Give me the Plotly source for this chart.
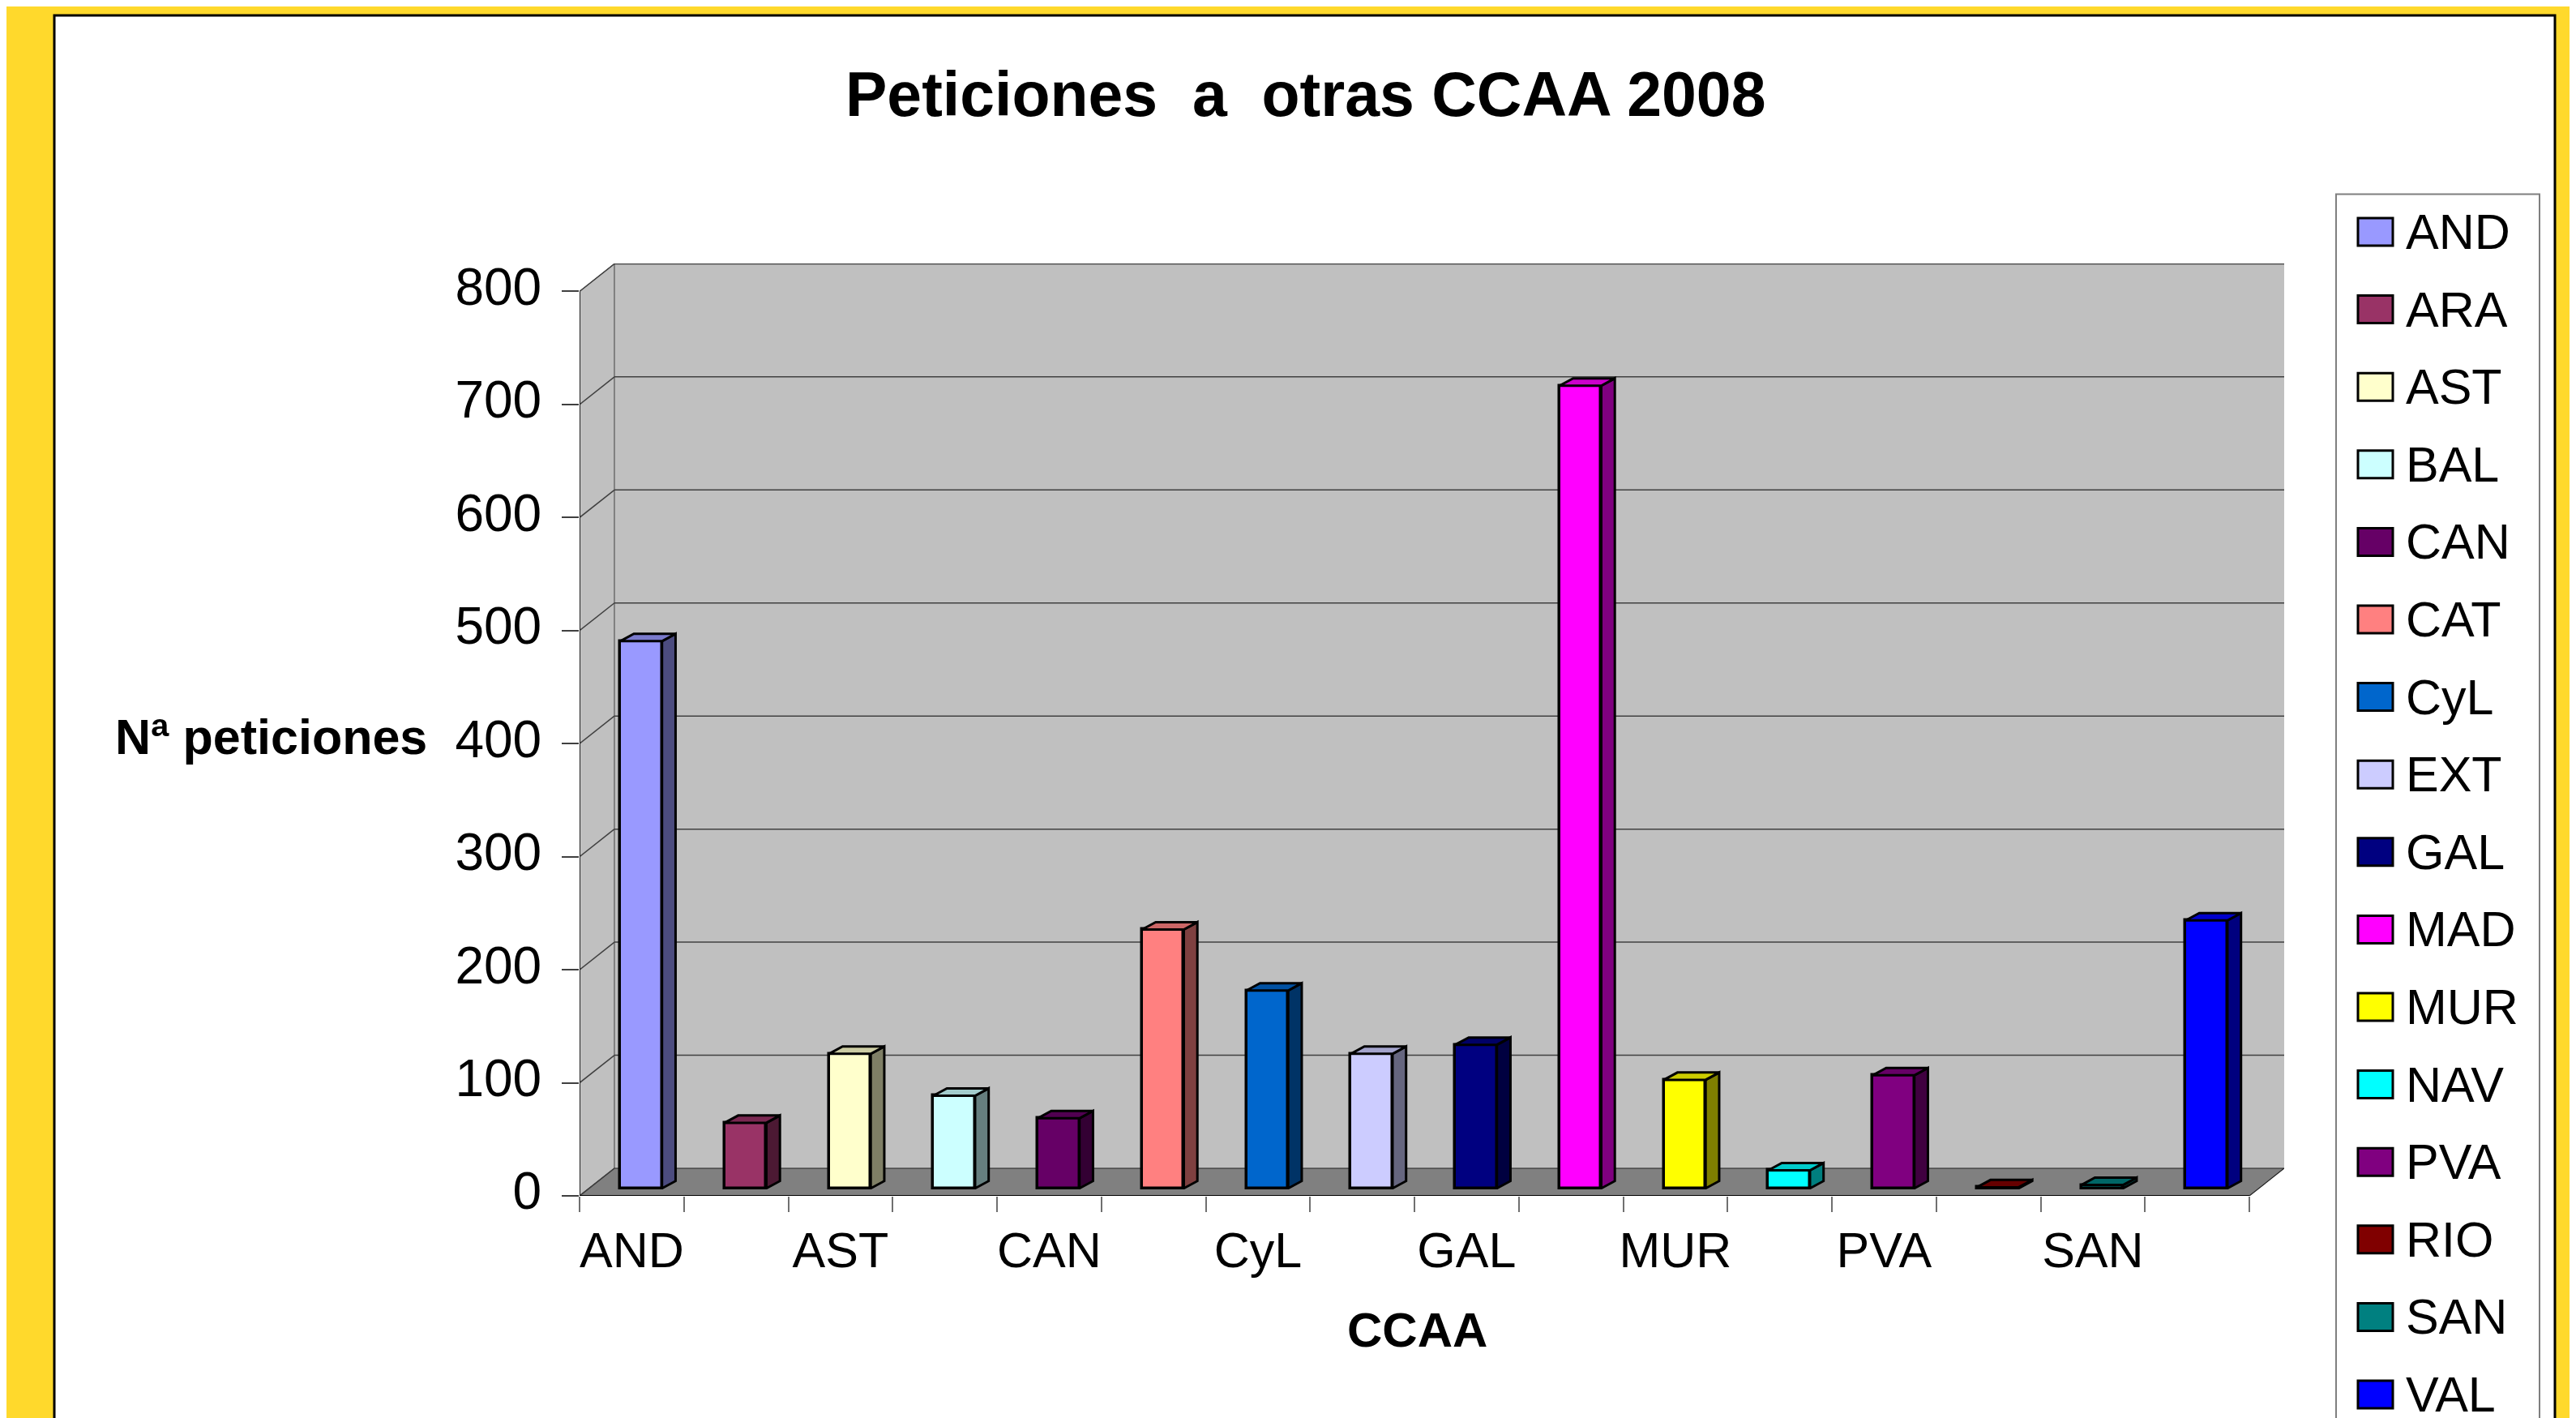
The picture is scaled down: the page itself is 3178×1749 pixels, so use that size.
import plotly.graph_objects as go

# ---------------- data ----------------
categories = ["AND", "ARA", "AST", "BAL", "CAN", "CAT", "CyL", "EXT",
              "GAL", "MAD", "MUR", "NAV", "PVA", "RIO", "SAN", "VAL"]
values = [484, 58, 119, 82, 62, 229, 175, 119, 127, 710, 96, 16, 100, 1, 3, 237]
colors = ["#9999FF", "#993366", "#FFFFCC", "#CCFFFF", "#660066", "#FF8080",
          "#0066CC", "#CCCCFF", "#000080", "#FF00FF", "#FFFF00", "#00FFFF",
          "#800080", "#800000", "#008080", "#0000FF"]
y_ticks = [0, 100, 200, 300, 400, 500, 600, 700, 800]
title_text = "Peticiones  a  otras CCAA 2008"
y_title = "Nª peticiones"
x_title = "CCAA"

# ---------------- geometry / style ----------------
W, H = 3178, 1749
PAGE_OFF = 8                # browser body margin
PX_L, PX_R, PY_T, PY_B = 715, 2818, 325, 1475
CAT_PX = 128.8              # px per category on the front axis
UNIT_PX = 1.3945            # px per value unit
DX = 43 / CAT_PX            # wall depth (categories)
DY = 34 / UNIT_PX           # wall depth (value units)
XMIN = -0.5
XMAX = len(categories) - 0.5 + DX
YMAX = (PY_B - PY_T) / UNIT_PX
BAR_SHIFT, BAR_W, BAR_BASE = 0.09, 0.40, 6.6
SIDE_DX, SIDE_DY = 0.13, 6.5
FONT = "Liberation Sans, Arial, sans-serif"


def px(x):
    return (x - PX_L) / (PX_R - PX_L)


def py(y):
    return (PY_B - y) / (PY_B - PY_T)


def shade(hexcol, f):
    h = hexcol.lstrip("#")
    r, g, b = (int(h[i:i + 2], 16) for i in (0, 2, 4))
    return "#%02X%02X%02X" % (int(r * f), int(g * f), int(b * f))


fig = go.Figure()

xs = [i + BAR_SHIFT for i in range(len(categories))]
fig.add_trace(go.Bar(
    x=xs, y=values, base=BAR_BASE, width=BAR_W,
    marker=dict(color=colors, line=dict(color="black", width=3.5)),
    hoverinfo="skip", showlegend=False))

# 3D side and top faces derived from the values
for x, v, c in zip(xs, values, colors):
    xl, xr = x - BAR_W / 2, x + BAR_W / 2
    b, t = BAR_BASE, BAR_BASE + v
    fig.add_trace(go.Scatter(
        x=[xr, xr + SIDE_DX, xr + SIDE_DX, xr, xr],
        y=[b, b + SIDE_DY, t + SIDE_DY, t, b],
        fill="toself", fillcolor=shade(c, 0.5), mode="lines",
        line=dict(color="black", width=3), hoverinfo="skip", showlegend=False))
    fig.add_trace(go.Scatter(
        x=[xl, xl + SIDE_DX, xr + SIDE_DX, xr, xl],
        y=[t, t + SIDE_DY, t + SIDE_DY, t, t],
        fill="toself", fillcolor=shade(c, 0.8), mode="lines",
        line=dict(color="black", width=3), hoverinfo="skip", showlegend=False))

shapes = []
# white panel
shapes.append(dict(type="rect", xref="paper", yref="paper", layer="below",
                   x0=px(67), x1=px(3152), y0=py(1900), y1=py(19),
                   fillcolor="white", line=dict(color="black", width=3)))
# legend box
shapes.append(dict(type="rect", xref="paper", yref="paper", layer="below",
                   x0=px(2882), x1=px(3133), y0=py(1900), y1=py(239.5),
                   fillcolor="white", line=dict(color="#7f7f7f", width=2)))

xr_front = len(categories) - 0.5
# back wall
shapes.append(dict(type="rect", xref="x", yref="y", layer="below",
                   x0=XMIN + DX, x1=xr_front + DX, y0=DY, y1=y_ticks[-1] + DY,
                   fillcolor="#C0C0C0", line=dict(width=0)))
# side wall
shapes.append(dict(type="path", xref="x", yref="y", layer="below",
                   path=f"M {XMIN},0 L {XMIN + DX},{DY} L {XMIN + DX},{y_ticks[-1] + DY} L {XMIN},{y_ticks[-1]} Z",
                   fillcolor="#C0C0C0", line=dict(color="#404040", width=1)))
# floor
shapes.append(dict(type="path", xref="x", yref="y", layer="below",
                   path=f"M {XMIN},0 L {xr_front},0 L {xr_front + DX},{DY} L {XMIN + DX},{DY} Z",
                   fillcolor="#808080", line=dict(color="#202020", width=1.2)))
# gridlines on the walls
for v in y_ticks:
    shapes.append(dict(type="line", xref="x", yref="y", layer="below",
                       x0=XMIN, y0=v, x1=XMIN + DX, y1=v + DY,
                       line=dict(color="#404040", width=1.5)))
    if v > 0:
        shapes.append(dict(type="line", xref="x", yref="y", layer="below",
                           x0=XMIN + DX, y0=v + DY, x1=xr_front + DX, y1=v + DY,
                           line=dict(color="#404040", width=1.5)))
# front axis lines
shapes.append(dict(type="line", xref="x", yref="y", layer="below",
                   x0=XMIN, y0=0, x1=XMIN, y1=y_ticks[-1],
                   line=dict(color="#202020", width=2)))
shapes.append(dict(type="line", xref="x", yref="y", layer="below",
                   x0=XMIN, y0=0, x1=xr_front, y1=0,
                   line=dict(color="black", width=2)))

# custom legend
annotations = []
for i, (cat, c) in enumerate(zip(categories, colors)):
    yc = 286 + i * 95.6
    shapes.append(dict(type="rect", xref="paper", yref="paper", layer="above",
                       x0=px(2909), x1=px(2952), y0=py(yc + 17), y1=py(yc - 17),
                       fillcolor=c, line=dict(color="black", width=3)))
    annotations.append(dict(xref="paper", yref="paper", x=px(2966), y=py(yc),
                            xanchor="left", yanchor="middle", text=cat, showarrow=False,
                            font=dict(family=FONT, size=61, color="black")))

annotations.append(dict(xref="paper", yref="paper", x=px(1611), y=py(116),
                        xanchor="center", yanchor="middle", text=title_text, showarrow=False,
                        font=dict(family=FONT, size=77, color="black", weight="bold")))
annotations.append(dict(xref="paper", yref="paper", x=px(334), y=py(909),
                        xanchor="center", yanchor="middle", text=y_title, showarrow=False,
                        font=dict(family=FONT, size=61, color="black", weight="bold")))
annotations.append(dict(xref="paper", yref="paper", x=px(1748), y=py(1641),
                        xanchor="center", yanchor="middle", text=x_title, showarrow=False,
                        font=dict(family=FONT, size=60, color="black", weight="bold")))

label_pos = list(range(0, len(categories), 2))
fig.update_layout(
    width=W, height=H,
    margin=dict(l=PX_L - PAGE_OFF, r=W - (PX_R - PAGE_OFF),
                t=PY_T - PAGE_OFF, b=H - (PY_B - PAGE_OFF), autoexpand=False),
    paper_bgcolor="#FFD92C", plot_bgcolor="rgba(0,0,0,0)",
    shapes=shapes, annotations=annotations, showlegend=False,
    bargap=0,
    xaxis=dict(range=[XMIN, XMAX], showgrid=False, zeroline=False, showline=False,
               tickmode="array", tickvals=label_pos,
               ticktext=[categories[i] for i in label_pos],
               ticks="outside", ticklen=19, tickcolor="rgba(0,0,0,0)",
               ticklabelstandoff=-5,
               tickfont=dict(family=FONT, size=61, color="black"),
               minor=dict(tickmode="array",
                          tickvals=[i - 0.5 for i in range(len(categories) + 1)],
                          ticks="outside", ticklen=19, tickwidth=1.5,
                          tickcolor="#707070", showgrid=False)),
    yaxis=dict(range=[0, YMAX], showgrid=False, zeroline=False, showline=False,
               tickmode="array", tickvals=y_ticks,
               ticks="outside", ticklen=21, tickwidth=1.5, tickcolor="#404040",
               ticklabelstandoff=12, ticklabelshift=-6,
               tickfont=dict(family=FONT, size=64, color="black")),
)

fig.write_html("out.html")
